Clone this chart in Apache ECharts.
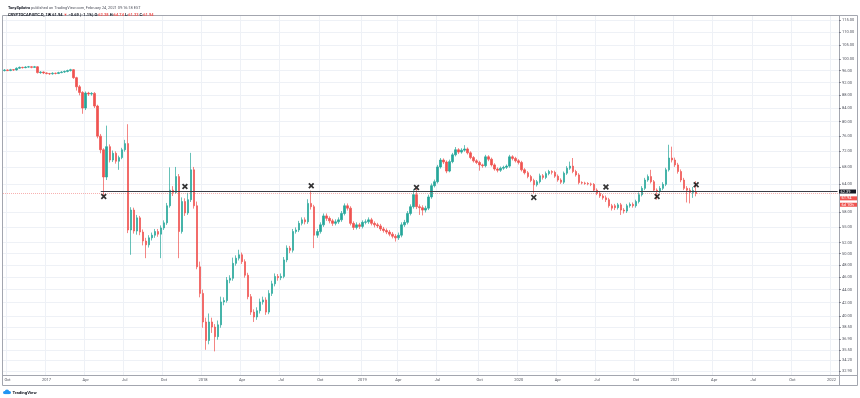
<!DOCTYPE html>
<html>
<head>
<meta charset="utf-8">
<script src="https://cdn.jsdelivr.net/npm/echarts@6/dist/echarts.min.js"></script>
<style>
  html, body { margin: 0; padding: 0; background: #fff; }
  #chart { width: 860px; height: 398px; }
</style>
</head>
<body>
<div id="chart"></div>
<script>
// weekly candles of CRYPTOCAP:BTC.D, first bar = week of 2016-09-26
const firstWeek = [2016, 8, 26];
const weekCount = 278; // bars + empty space up to mid Jan 2022

// [open, close, low, high]
const candles = [
  [96.0, 96.2, 95.7, 96.5], [96.2, 96.0, 95.8, 96.4], [96.0, 96.3, 95.8, 96.6], [96.3, 96.2, 95.9, 96.5],
  [96.2, 96.8, 96.0, 97.1], [96.8, 97.1, 96.6, 97.4], [97.1, 97.0, 96.7, 97.3], [97.0, 97.2, 96.8, 97.5],
  [97.2, 97.3, 97.0, 97.6], [97.3, 97.1, 96.8, 97.5], [97.1, 97.3, 96.9, 97.6], [97.3, 95.3, 95.0, 97.5],
  [95.3, 95.5, 94.9, 95.8], [95.5, 95.2, 94.8, 95.7], [95.2, 95.0, 94.7, 95.4], [95.0, 94.9, 94.5, 95.2],
  [94.9, 95.1, 94.6, 95.4], [95.1, 95.0, 94.7, 95.3], [95.0, 95.3, 94.8, 95.6], [95.3, 95.5, 95.1, 95.8],
  [95.5, 95.7, 95.2, 96.0], [95.7, 96.0, 95.4, 96.3], [96.0, 96.3, 95.7, 96.6], [96.3, 93.6, 93.2, 96.5],
  [93.6, 90.6, 89.4, 93.9], [90.6, 88.8, 87.9, 91.2], [88.8, 84.0, 82.3, 89.2], [84.0, 88.6, 83.4, 89.1],
  [88.6, 88.3, 87.7, 89.0], [88.3, 88.5, 87.8, 88.9], [88.5, 84.6, 84.0, 88.9], [84.6, 76.0, 75.4, 85.0],
  [76.0, 72.4, 71.5, 76.6], [72.4, 65.7, 61.4, 72.8], [65.7, 73.2, 65.0, 78.9], [73.2, 69.8, 69.2, 73.8],
  [69.8, 71.5, 69.3, 72.2], [71.5, 69.5, 68.9, 72.0], [69.5, 70.4, 67.4, 70.9], [70.4, 72.4, 70.0, 72.9],
  [72.4, 74.0, 71.9, 75.0], [74.0, 54.4, 53.8, 79.3], [54.4, 58.4, 49.8, 59.0], [58.4, 54.2, 53.7, 58.9],
  [54.2, 56.8, 53.5, 57.4], [56.8, 54.0, 53.4, 57.2], [54.0, 52.3, 51.5, 54.5], [52.3, 51.6, 49.2, 52.9],
  [51.6, 52.9, 51.1, 53.4], [52.9, 53.4, 52.4, 53.9], [53.4, 54.1, 52.9, 54.6], [54.1, 53.6, 53.1, 54.6],
  [53.6, 54.8, 49.2, 55.3], [54.8, 55.8, 54.4, 56.3], [55.8, 59.3, 55.4, 59.9], [59.3, 62.7, 58.9, 68.0],
  [62.7, 62.2, 61.4, 63.6], [62.2, 65.8, 61.9, 68.1], [65.8, 54.1, 49.2, 66.4], [54.1, 60.2, 53.7, 61.1],
  [60.2, 57.8, 57.2, 60.9], [57.8, 60.6, 57.4, 62.1], [60.6, 67.4, 60.1, 71.6], [67.4, 59.3, 58.7, 68.1],
  [59.3, 47.7, 47.3, 60.2], [47.7, 43.4, 42.8, 48.6], [43.4, 39.2, 38.4, 44.0], [39.2, 36.7, 35.5, 39.8],
  [36.7, 39.2, 36.2, 40.4], [39.2, 38.5, 37.7, 39.8], [38.5, 37.2, 35.3, 38.9], [37.2, 38.8, 36.8, 39.4],
  [38.8, 42.1, 38.4, 42.9], [42.1, 42.3, 41.6, 42.8], [42.3, 45.5, 42.0, 46.0], [45.5, 45.8, 45.0, 46.3],
  [45.8, 48.3, 45.4, 49.3], [48.3, 49.2, 47.9, 49.7], [49.2, 49.8, 48.8, 50.7], [49.8, 48.6, 48.2, 50.2],
  [48.6, 46.3, 45.9, 49.0], [46.3, 42.9, 42.5, 46.7], [42.9, 40.6, 40.2, 43.3], [40.6, 39.9, 39.2, 41.0],
  [39.9, 40.8, 39.5, 41.3], [40.8, 42.1, 40.4, 42.6], [42.1, 42.4, 41.7, 42.9], [42.4, 40.6, 40.2, 42.8],
  [40.6, 43.4, 40.3, 43.9], [43.4, 44.9, 43.0, 45.4], [44.9, 46.1, 44.5, 46.6], [46.1, 45.9, 45.4, 46.5],
  [45.9, 46.1, 45.5, 46.6], [46.1, 48.9, 45.8, 49.4], [48.9, 51.0, 48.5, 51.5], [51.0, 50.6, 50.1, 51.4],
  [50.6, 54.1, 50.2, 54.6], [54.1, 54.4, 53.7, 54.9], [54.4, 55.7, 54.0, 56.2], [55.7, 56.4, 55.3, 56.9],
  [56.4, 56.0, 55.5, 56.9], [56.0, 59.8, 55.6, 60.7], [59.8, 59.1, 58.5, 62.6], [59.1, 53.4, 51.0, 59.5],
  [53.4, 54.1, 52.9, 54.6], [54.1, 55.4, 53.7, 55.9], [55.4, 57.2, 55.0, 57.7], [57.2, 56.7, 56.2, 57.7],
  [56.7, 56.2, 55.7, 57.1], [56.2, 55.7, 55.2, 56.6], [55.7, 56.0, 55.3, 56.5], [56.0, 56.4, 55.6, 56.9],
  [56.4, 57.7, 56.0, 58.2], [57.7, 59.3, 57.3, 59.8], [59.3, 58.8, 58.3, 59.8], [58.8, 55.7, 55.3, 59.2],
  [55.7, 54.9, 54.4, 56.1], [54.9, 55.4, 54.5, 55.9], [55.4, 55.1, 54.6, 55.8], [55.1, 55.9, 54.7, 56.3],
  [55.9, 56.0, 55.5, 56.5], [56.0, 56.4, 55.6, 56.9], [56.4, 55.7, 55.3, 56.8], [55.7, 55.4, 54.9, 56.1],
  [55.4, 55.2, 54.8, 55.8], [55.2, 54.6, 54.2, 55.6], [54.6, 54.3, 53.9, 55.0], [54.3, 54.0, 53.6, 54.7],
  [54.0, 53.6, 53.2, 54.4], [53.6, 53.2, 52.8, 54.0], [53.2, 52.9, 52.2, 53.6], [52.9, 53.4, 52.5, 53.9],
  [53.4, 55.4, 53.0, 55.9], [55.4, 55.9, 55.0, 56.4], [55.9, 57.7, 55.5, 58.2], [57.7, 59.1, 57.3, 59.6],
  [59.1, 61.7, 58.7, 62.9], [61.7, 59.1, 58.6, 63.0], [59.1, 58.9, 57.4, 59.6], [58.9, 58.4, 57.3, 59.4],
  [58.4, 58.8, 57.9, 59.3], [58.8, 61.2, 58.4, 61.7], [61.2, 63.7, 60.8, 64.2], [63.7, 64.6, 63.3, 65.1],
  [64.6, 68.1, 64.2, 68.6], [68.1, 69.8, 67.7, 70.3], [69.8, 69.3, 68.8, 70.2], [69.3, 67.1, 66.6, 69.7],
  [67.1, 69.4, 66.8, 69.9], [69.4, 71.1, 69.0, 71.6], [71.1, 72.4, 70.7, 73.1], [72.4, 71.8, 71.3, 72.8],
  [71.8, 72.3, 71.4, 72.8], [72.3, 72.6, 71.9, 73.6], [72.6, 71.6, 71.2, 73.0], [71.6, 70.4, 70.0, 72.0],
  [70.4, 69.6, 69.2, 70.8], [69.6, 69.2, 68.8, 70.0], [69.2, 68.6, 67.2, 69.6], [68.6, 68.4, 67.9, 68.9],
  [68.4, 70.6, 68.0, 71.1], [70.6, 70.0, 69.5, 71.0], [70.0, 68.6, 68.2, 70.4], [68.6, 67.6, 67.2, 69.0],
  [67.6, 67.3, 66.8, 68.0], [67.3, 67.8, 66.9, 68.2], [67.8, 68.0, 67.4, 68.4], [68.0, 68.3, 67.6, 68.7],
  [68.3, 70.6, 67.9, 71.1], [70.6, 70.2, 69.7, 71.0], [70.2, 69.6, 69.2, 70.6], [69.6, 69.2, 68.7, 70.0],
  [69.2, 67.4, 67.0, 69.6], [67.4, 66.7, 66.3, 67.8], [66.7, 65.8, 65.4, 67.1], [65.8, 64.9, 64.5, 66.2],
  [64.9, 63.9, 62.0, 65.3], [63.9, 64.6, 63.5, 65.0], [64.6, 66.0, 64.2, 66.5], [66.0, 65.6, 65.1, 66.4],
  [65.6, 66.5, 65.2, 67.0], [66.5, 67.0, 66.1, 67.4], [67.0, 66.8, 66.3, 67.3], [66.8, 65.9, 65.5, 67.2],
  [65.9, 65.0, 64.6, 66.3], [65.0, 64.5, 64.1, 65.4], [64.5, 66.6, 64.1, 67.0], [66.6, 67.8, 66.2, 68.3],
  [67.8, 68.3, 67.4, 69.4], [68.3, 67.0, 66.6, 70.3], [67.0, 66.2, 65.8, 67.4], [66.2, 64.4, 64.0, 66.6],
  [64.4, 64.3, 64.0, 64.7], [64.3, 64.2, 63.9, 64.6], [64.2, 64.1, 63.8, 64.5], [64.1, 64.0, 63.6, 64.4],
  [64.0, 62.7, 62.3, 64.3], [62.7, 62.0, 61.6, 63.1], [62.0, 61.4, 61.0, 62.4], [61.4, 61.0, 60.6, 61.8],
  [61.0, 60.6, 60.1, 61.5], [60.6, 59.3, 58.9, 61.0], [59.3, 58.8, 58.3, 59.7], [59.3, 58.9, 58.4, 59.7],
  [58.9, 59.5, 58.5, 59.9], [59.5, 58.4, 57.4, 59.9], [58.4, 58.2, 57.7, 58.8], [58.2, 59.3, 57.8, 59.7],
  [59.3, 59.6, 58.9, 60.0], [59.6, 59.3, 58.9, 60.0], [59.3, 60.2, 58.9, 60.6], [60.2, 61.7, 59.8, 62.2],
  [61.7, 63.1, 61.3, 63.6], [63.1, 65.0, 62.7, 65.5], [65.0, 65.8, 64.6, 66.3], [65.8, 64.6, 64.2, 67.4],
  [64.6, 62.7, 62.3, 65.0], [62.7, 62.4, 60.6, 63.1], [62.4, 63.1, 62.0, 63.6], [63.1, 64.0, 62.7, 64.5],
  [64.0, 67.4, 63.6, 67.9], [67.4, 70.3, 67.0, 73.7], [70.3, 69.8, 69.2, 73.2], [69.8, 68.6, 68.1, 70.4],
  [68.6, 67.0, 66.5, 69.1], [67.0, 65.0, 64.5, 67.5], [65.0, 63.1, 62.7, 65.5], [63.1, 62.7, 60.0, 63.6],
  [62.7, 62.2, 59.8, 63.2], [62.2, 62.63, 61.0, 63.4], [62.38, 61.94, 61.33, 64.74]
];

// hand drawn annotations
const lineLevel = 62.39;
const lineStartWeek = 32;
const lastPrice = 61.94;
const markerWeeks = [33, 60, 102, 137, 176, 200, 217, 230];
const markerLevels = [61.3, 63.5, 63.7, 63.3, 61.1, 63.4, 61.3, 63.9];

const yTicks = [32.9, 34.2, 35.5, 36.9, 38.5, 40, 42, 44, 46, 48, 50, 52, 55, 58,
  64, 68, 72, 76, 80, 84, 88, 92, 96, 100, 105, 110, 115];
const monthNames = ['Jan', 'Feb', 'Mar', 'Apr', 'May', 'Jun', 'Jul', 'Aug', 'Sep', 'Oct', 'Nov', 'Dec'];
const labelMonths = [0, 3, 6, 9];

const weeks = [];
for (let i = 0; i < weekCount; i++) {
  const d = new Date(Date.UTC(firstWeek[0], firstWeek[1], firstWeek[2] + 7 * i));
  weeks.push(d.toISOString().slice(0, 10));
}
const monthOf = (i) => +weeks[i].slice(5, 7) - 1;
const isLabelWeek = (i) => i > 0 && monthOf(i) !== monthOf(i - 1) && labelMonths.includes(monthOf(i));

const UP = '#26a69a';
const DOWN = '#ef5350';
const TXT = '#50535e';
const GRID = '#eef1f6';
const FRAME = '#a3a6af';
const FONT = 'Roboto, "Noto Sans", sans-serif';

const chart = echarts.init(document.getElementById('chart'), null, { renderer: 'canvas' });

chart.setOption({
  animation: false,
  backgroundColor: '#fff',
  textStyle: { fontFamily: FONT },
  title: [
    {
      left: 3, top: 1.5,
      text: '{n|TonySpilotro} published on TradingView.com, February 24, 2021 09:16:18 EST',
      textStyle: {
        fontSize: 3.9, color: TXT, fontWeight: 'normal', fontFamily: FONT,
        rich: { n: { fontSize: 3.9, fontWeight: 'bold', color: '#131722', fontFamily: FONT } }
      }
    },
    {
      left: 3, top: 7.5,
      text: '{k|CRYPTOCAP:BTC.D, 1W} {k|61.94} {r|▼} {k|−0.69 (−1.1%)} {k|O:}{r|62.38} {k|H:}{r|64.74} {k|L:}{r|61.33} {k|C:}{r|61.94}',
      textStyle: {
        fontSize: 4, color: '#131722', fontWeight: 'normal', fontFamily: FONT,
        rich: {
          k: { fontSize: 4, color: '#131722', fontWeight: 'bold', fontFamily: FONT },
          r: { fontSize: 4, color: DOWN, fontWeight: 'bold', fontFamily: FONT }
        }
      }
    }
  ],
  grid: { left: 3, right: 21, top: 16, bottom: 23, containLabel: false },
  xAxis: {
    type: 'category',
    data: weeks,
    boundaryGap: true,
    axisLine: { show: true, lineStyle: { color: FRAME, width: 1 } },
    axisTick: { show: false },
    axisLabel: {
      interval: (index) => isLabelWeek(index),
      formatter: (value, index) => {
        const m = +value.slice(5, 7) - 1;
        return m === 0 ? value.slice(0, 4) : monthNames[m];
      },
      fontSize: 4, color: TXT, margin: 3, fontFamily: FONT
    },
    splitLine: {
      show: true,
      interval: (index) => isLabelWeek(index),
      lineStyle: { color: GRID, width: 1 }
    }
  },
  yAxis: {
    type: 'log',
    logBase: 10,
    position: 'right',
    min: 32.45,
    max: 116.6,
    axisLine: { show: true, lineStyle: { color: FRAME, width: 1 } },
    axisTick: { show: true, length: 2, customValues: yTicks, lineStyle: { color: TXT, width: 0.6 } },
    axisLabel: {
      customValues: yTicks,
      formatter: (v) => Number(v).toFixed(2),
      fontSize: 4, color: TXT, margin: 3, fontFamily: FONT
    },
    splitLine: { show: true, lineStyle: { color: GRID, width: 1 } }
  },
  series: [
    {
      type: 'candlestick',
      data: candles,
      barWidth: 2,
      itemStyle: {
        color: UP,
        color0: DOWN,
        borderColor: 'rgba(38,166,154,0.7)',
        borderColor0: 'rgba(239,83,80,0.7)',
        borderWidth: 1
      },
      markLine: {
        silent: true,
        symbol: ['none', 'none'],
        animation: false,
        data: [
          {
            yAxis: lastPrice,
            lineStyle: { color: 'rgba(239,83,80,0.45)', type: 'dotted', width: 1 },
            label: {
              show: true, position: 'end', distance: 1, verticalAlign: 'top',
              formatter: '{s| }\n{a|61.94}\n{a|6d 10h}',
              rich: {
                s: { fontSize: 1, lineHeight: 1.6 },
                a: { fontSize: 4, color: '#fff', backgroundColor: DOWN, width: 14, padding: [0, 1.5], lineHeight: 6.4, fontFamily: FONT }
              }
            }
          },
          [
            {
              coord: [lineStartWeek, lineLevel],
              lineStyle: { color: '#3a3d47', type: 'solid', width: 1.2 },
              label: {
                show: true, position: 'end', distance: 1.5,
                formatter: '{a|62.39}',
                rich: {
                  a: { fontSize: 4, color: '#fff', backgroundColor: '#131722', width: 14, padding: [0, 1.5], lineHeight: 6.2, fontFamily: FONT }
                }
              }
            },
            { coord: [weekCount - 1, lineLevel] }
          ]
        ]
      }
    },
    {
      type: 'scatter',
      data: markerWeeks.map((w, k) => [w, markerLevels[k]]),
      symbol: 'path://M0,2 L2,0 L5,3 L8,0 L10,2 L7,5 L10,8 L8,10 L5,7 L2,10 L0,8 L3,5 Z',
      symbolSize: 6,
      itemStyle: { color: '#000' },
      z: 5
    }
  ],
  graphic: [
    { type: 'rect', shape: { x: 2.5, y: 15.5, width: 855, height: 370 }, style: { fill: 'none', stroke: FRAME, lineWidth: 1 }, silent: true },
    { type: 'line', shape: { x1: 839, y1: 375.5, x2: 857.5, y2: 375.5 }, style: { stroke: FRAME, lineWidth: 1 }, silent: true },
    { type: 'line', shape: { x1: 839.5, y1: 375, x2: 839.5, y2: 385.5 }, style: { stroke: FRAME, lineWidth: 1 }, silent: true },
    {
      type: 'group', left: 3, top: 389.5, silent: true,
      children: [
        { type: 'circle', shape: { cx: 2.2, cy: 3, r: 1.6 }, style: { fill: '#2196f3' } },
        { type: 'circle', shape: { cx: 4.6, cy: 2.2, r: 2.2 }, style: { fill: '#2196f3' } },
        { type: 'circle', shape: { cx: 7.0, cy: 3, r: 1.6 }, style: { fill: '#2196f3' } },
        { type: 'rect', shape: { x: 2.2, y: 2.6, width: 4.8, height: 2 }, style: { fill: '#2196f3' } },
        { type: 'text', style: { x: 10, y: 3.5, text: 'TradingView', fontSize: 4.3, fontWeight: 'bold', fill: '#131722', verticalAlign: 'middle', fontFamily: FONT } }
      ]
    }
  ]
});
</script>
</body>
</html>
